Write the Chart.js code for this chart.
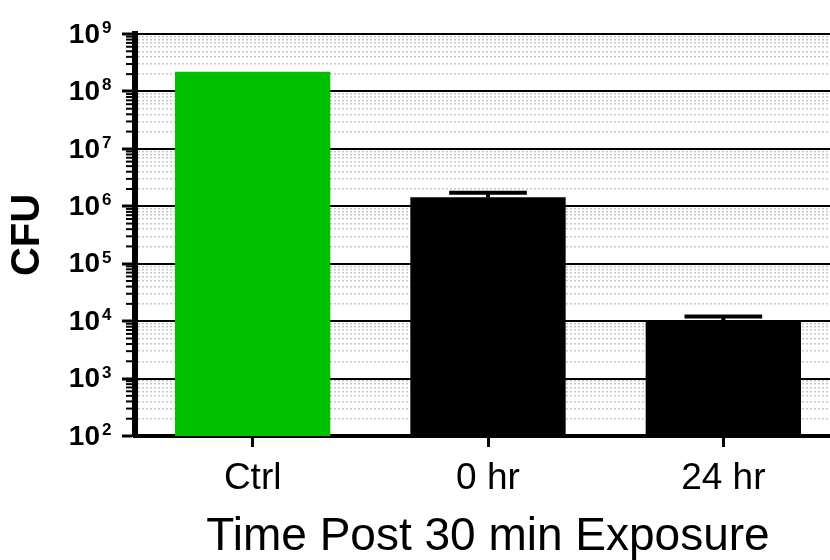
<!DOCTYPE html>
<html>
<head>
<meta charset="utf-8">
<script src="https://cdn.jsdelivr.net/npm/chart.js@4"></script>
<style>
  html, body { margin: 0; padding: 0; overflow: hidden; background: #fff; }
</style>
</head>
<body>
<canvas id="cfuChart" width="845" height="560"></canvas>
<script>
// values
const categories = ['Ctrl', '0 hr', '24 hr'];
const cfuMeans = [2.2e8, 1.43e6, 1.02e4];
const cfuErrUpper = [null, 1.72e6, 1.2e4];
const barColors = ['#00c000', '#000000', '#000000'];
const yExponents = [2, 3, 4, 5, 6, 7, 8, 9];

// major ticks at decades, minor at 2..9 x decade
const yTicks = [];
yExponents.forEach(e => {
    yTicks.push({ value: Math.pow(10, e), major: true });
    if (e < 9) {
        for (let k = 2; k <= 9; k++) yTicks.push({ value: k * Math.pow(10, e), major: false });
    }
});

const isMajor = c => c.tick && c.tick.major;

const errorBars = {
    id: 'errorBars',
    afterDatasetsDraw(chart) {
        const meta = chart.getDatasetMeta(0);
        const y = chart.scales.y;
        const g = chart.ctx;
        g.save();
        g.strokeStyle = '#000';
        g.lineWidth = 4;
        meta.data.forEach((bar, i) => {
            if (cfuErrUpper[i] == null) return;
            const top = y.getPixelForValue(cfuErrUpper[i]);
            const half = bar.width * 0.25;
            g.beginPath();
            g.moveTo(bar.x, bar.y);
            g.lineTo(bar.x, top);
            g.moveTo(bar.x - half, top);
            g.lineTo(bar.x + half, top);
            g.stroke();
        });
        g.restore();
    }
};

// "10" with a raised exponent, plus the short minor tick marks
const yAxisExtras = {
    id: 'yAxisExtras',
    afterDraw(chart) {
        const y = chart.scales.y;
        const g = chart.ctx;
        const edge = y.right;
        g.save();
        g.fillStyle = '#000';
        g.strokeStyle = '#000';
        g.lineWidth = 2;
        yTicks.forEach(t => {
            const py = y.getPixelForValue(t.value);
            if (t.major) {
                const e = Math.round(Math.log10(t.value));
                g.font = 'bold 28px "Liberation Sans"';
                g.textAlign = 'right';
                g.textBaseline = 'middle';
                g.fillText('10', edge - 35, py + 1);
                g.font = 'bold 17px "Liberation Sans"';
                g.textAlign = 'left';
                g.textBaseline = 'alphabetic';
                g.fillText(String(e), edge - 33, py - 1);
            } else {
                g.beginPath();
                g.moveTo(edge - 9, py);
                g.lineTo(edge - 3, py);
                g.stroke();
            }
        });
        g.restore();
    }
};

const ctx = document.getElementById('cfuChart').getContext('2d');
const chartCfu = new Chart(ctx, {
    type: 'bar',
    data: {
        labels: categories,
        datasets: [{
            data: cfuMeans,
            backgroundColor: barColors,
            borderWidth: 0,
            barPercentage: 0.66,
            categoryPercentage: 1
        }]
    },
    options: {
        responsive: false,
        animation: false,
        layout: { padding: { top: 34, right: 4, left: 0, bottom: 0 } },
        plugins: {
            legend: { display: false },
            tooltip: { enabled: false }
        },
        scales: {
            x: {
                offset: true,
                afterFit: s => { s.height = 124; },
                grid: { offset: false, drawOnChartArea: false, tickLength: 11, tickWidth: 3, tickColor: '#000' },
                border: { color: '#000', width: 4 },
                ticks: { color: '#000', font: { family: 'Liberation Sans', size: 37 }, padding: 10 },
                title: {
                    display: true,
                    text: 'Time Post 30 min Exposure',
                    color: '#000',
                    font: { family: 'Liberation Sans', size: 46, lineHeight: 1 },
                    padding: { top: 0, bottom: 0 }
                }
            },
            y: {
                type: 'logarithmic',
                min: 100,
                max: 1e9,
                afterFit: s => { s.width = 135; },
                afterBuildTicks: scale => { scale.ticks = yTicks.map(t => ({ value: t.value, major: t.major })); },
                ticks: { display: false, autoSkip: false },
                grid: {
                    color: c => isMajor(c) ? '#000' : '#c8c8c8',
                    lineWidth: c => isMajor(c) ? 2 : 1.5,
                    tickLength: 13,
                    tickColor: c => isMajor(c) ? '#000' : 'rgba(0,0,0,0)',
                    tickWidth: 3
                },
                border: {
                    color: '#000',
                    width: 6,
                    dash: c => (c.tick && !c.tick.major) ? [2, 2] : []
                },
                title: {
                    display: true,
                    text: 'CFU',
                    color: '#000',
                    font: { family: 'Liberation Sans', size: 40, weight: 'bold' },
                    padding: { top: 4, bottom: 0 }
                }
            }
        }
    },
    plugins: [errorBars, yAxisExtras]
});
</script>
</body>
</html>
